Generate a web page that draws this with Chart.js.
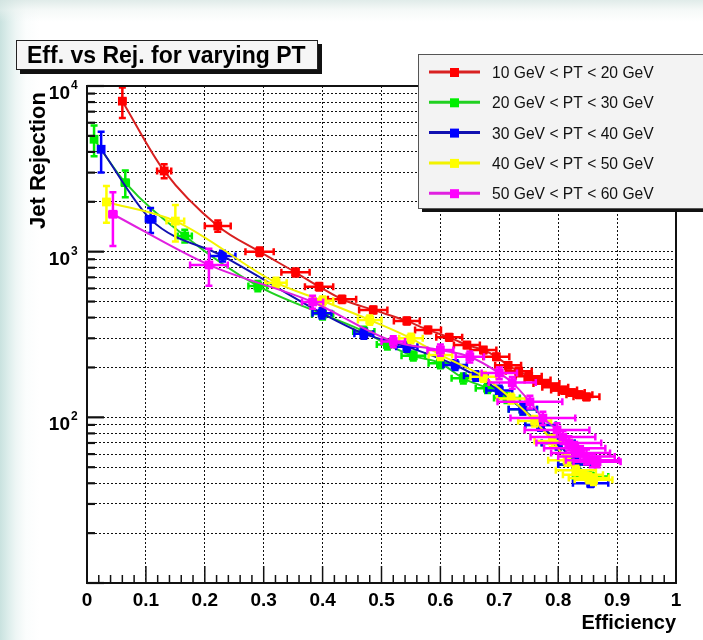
<!DOCTYPE html>
<html>
<head>
<meta charset="utf-8">
<script src="https://cdn.jsdelivr.net/npm/chart.js@4"></script>
<style>
  html, body { margin: 0; padding: 0; }
  body {
    width: 703px; height: 640px; overflow: hidden;
    background:
      linear-gradient(180deg, rgba(214,229,226,0.75) 0px, rgba(236,243,241,0.5) 10px, rgba(255,255,255,0) 22px),
      linear-gradient(90deg, #c9e2df 0px, #dcedeb 8px, #eef6f5 16px, #fbfdfd 26px, #ffffff 40px);
  }
  canvas { display: block; }
</style>
</head>
<body>
<canvas id="rej" width="703" height="640"></canvas>
<script>
// Jet rejection vs. tagging efficiency, one graph per PT bin

const ptBins = [
  '10 GeV < PT < 20 GeV',
  '20 GeV < PT < 30 GeV',
  '30 GeV < PT < 40 GeV',
  '40 GeV < PT < 50 GeV',
  '50 GeV < PT < 60 GeV'
];

// 10-20 GeV
const eff10 = [0.060, 0.131, 0.222, 0.293, 0.354, 0.394, 0.433, 0.486, 0.543, 0.579, 0.615, 0.645,
               0.673, 0.695, 0.715, 0.733, 0.750, 0.765, 0.780, 0.795, 0.810, 0.823, 0.836, 0.848];
const rej10 = [8100, 3070, 1430, 1000, 750, 615, 516, 445, 382, 337, 304, 273,
               255, 232, 206, 190, 177, 168, 160, 152, 146, 141, 137, 133];
const effErr10 = [0.005, 0.012, 0.022, 0.024, 0.024, 0.024, 0.024, 0.024, 0.022, 0.022, 0.022, 0.022,
                  0.022, 0.022, 0.022, 0.022, 0.022, 0.022, 0.022, 0.022, 0.022, 0.022, 0.022, 0.022];
const rejErr10 = [1700, 300, 110, 60, 42, 32, 26, 22, 18, 15, 14, 12,
                  11, 10, 9, 9, 8, 8, 7, 7, 7, 6, 6, 6];

// 20-30 GeV
const eff20 = [0.012, 0.065, 0.166, 0.290, 0.400, 0.470, 0.510, 0.554, 0.600, 0.639, 0.680, 0.713,
               0.740, 0.770, 0.800, 0.830, 0.855];
const rej20 = [4770, 2610, 1244, 621, 420, 330, 275, 235, 212, 172, 150, 131,
               112, 90, 70, 52, 44];
const effErr20 = [0.004, 0.006, 0.012, 0.016, 0.018, 0.018, 0.018, 0.020, 0.020, 0.020, 0.020, 0.022,
                  0.024, 0.026, 0.028, 0.030, 0.030];
const rejErr20 = [1000, 480, 110, 45, 30, 22, 18, 15, 14, 12, 10, 9,
                  8, 7, 6, 5, 4];

// 30-40 GeV
const eff30 = [0.024, 0.108, 0.230, 0.399, 0.470, 0.543, 0.625, 0.660, 0.700, 0.740, 0.770, 0.800,
               0.830, 0.855];
const rej30 = [4150, 1567, 942, 425, 320, 267, 207, 178, 145, 112, 90, 70,
               52, 40];
const effErr30 = [0.004, 0.008, 0.022, 0.016, 0.016, 0.018, 0.020, 0.020, 0.022, 0.024, 0.026, 0.028,
                  0.030, 0.030];
const rejErr30 = [1150, 270, 70, 30, 22, 18, 14, 12, 10, 8, 7, 6,
                  5, 2];

// 40-50 GeV
const eff40 = [0.033, 0.150, 0.321, 0.400, 0.480, 0.550, 0.600, 0.673, 0.720, 0.760, 0.790, 0.815,
               0.830, 0.842, 0.852, 0.860];
const rej40 = [1995, 1530, 650, 505, 387, 300, 238, 176, 130, 95, 72, 55,
               48, 45, 43, 42];
const effErr40 = [0.005, 0.015, 0.018, 0.018, 0.020, 0.020, 0.020, 0.022, 0.024, 0.028, 0.030, 0.032,
                  0.034, 0.034, 0.034, 0.032];
const rejErr40 = [500, 380, 45, 32, 25, 20, 16, 12, 9, 7, 6, 4,
                  3, 3, 3, 3];

// 50-60 GeV
const eff50 = [0.044, 0.207, 0.383, 0.520, 0.600, 0.650, 0.700, 0.722, 0.752, 0.774, 0.798, 0.808,
               0.818, 0.828, 0.838, 0.848, 0.858, 0.866];
const rej50 = [1682, 832, 497, 287, 255, 232, 185, 162, 124, 99, 84, 76,
               70, 65, 61, 58, 55, 54];
const effErr50 = [0.006, 0.032, 0.018, 0.020, 0.022, 0.024, 0.030, 0.040, 0.055, 0.055, 0.055, 0.055,
                  0.055, 0.052, 0.050, 0.048, 0.045, 0.040];
const rejErr50 = [600, 210, 45, 22, 20, 18, 15, 13, 11, 9, 8, 7,
                  7, 6, 6, 6, 5, 4];

// axis ticks
const xTickValues = [0, 0.1, 0.2, 0.3, 0.4, 0.5, 0.6, 0.7, 0.8, 0.9, 1];
const xTickLabels = ['0', '0.1', '0.2', '0.3', '0.4', '0.5', '0.6', '0.7', '0.8', '0.9', '1'];
const yDecades = [10, 100, 1000, 10000];
const yLabelValues = [100, 1000, 10000];
const yLabelExps = ['2', '3', '4'];

const markerColors = ['#ff0000', '#00ee00', '#0000ff', '#ffff00', '#ff00ff'];
const lineColors = ['#d82020', '#20d020', '#1010b0', '#f2f200', '#e020e0'];

const FONT = "'Liberation Sans', Arial, Helvetica, sans-serif";

const series = [
  [eff10, rej10, effErr10, rejErr10],
  [eff20, rej20, effErr20, rejErr20],
  [eff30, rej30, effErr30, rejErr30],
  [eff40, rej40, effErr40, rejErr40],
  [eff50, rej50, effErr50, rejErr50]
];

const datasets = series.map(([ex, ry, dex, dry], i) => ({
  label: ptBins[i],
  data: ex.map((v, k) => ({ x: v, y: ry[k], ex: dex[k], ey: dry[k] })),
  showLine: true,
  cubicInterpolationMode: 'monotone',
  borderColor: lineColors[i],
  borderWidth: 2,
  pointStyle: 'rect',
  pointRadius: 6.2,
  pointBackgroundColor: markerColors[i],
  pointBorderColor: markerColors[i],
  pointBorderWidth: 0,
  order: series.length - i   // later bins drawn on top
}));

const txt = (ctx, s, x, y, font, align, sx = 1) => {
  ctx.save();
  ctx.font = font;
  ctx.textAlign = align;
  ctx.textBaseline = 'alphabetic';
  ctx.translate(x, y);
  ctx.scale(sx, 1);
  ctx.fillText(s, 0, 0);
  ctx.restore();
};

const line = (ctx, x0, y0, x1, y1) => {
  ctx.beginPath();
  ctx.moveTo(x0, y0);
  ctx.lineTo(x1, y1);
  ctx.stroke();
};

// error bars with small end caps, clipped to the frame
const errorBars = {
  id: 'errorBars',
  afterDatasetDraw(chart, args) {
    const ds = chart.data.datasets[args.index];
    const { ctx, chartArea: a, scales: { x, y } } = chart;
    const cap = 3.5;
    ctx.save();
    ctx.beginPath();
    ctx.rect(a.left, a.top, a.right - a.left, a.bottom - a.top);
    ctx.clip();
    ctx.strokeStyle = ds.pointBackgroundColor;
    ctx.lineWidth = 2.5;
    ds.data.forEach(p => {
      const px = x.getPixelForValue(p.x), py = y.getPixelForValue(p.y);
      const x0 = x.getPixelForValue(p.x - p.ex), x1 = x.getPixelForValue(p.x + p.ex);
      const y0 = y.getPixelForValue(p.y + p.ey), y1 = y.getPixelForValue(p.y - p.ey);
      ctx.beginPath();
      ctx.moveTo(x0, py); ctx.lineTo(x1, py);
      ctx.moveTo(px, y0); ctx.lineTo(px, y1);
      ctx.moveTo(x0, py - cap); ctx.lineTo(x0, py + cap);
      ctx.moveTo(x1, py - cap); ctx.lineTo(x1, py + cap);
      ctx.moveTo(px - cap, y0); ctx.lineTo(px + cap, y0);
      ctx.moveTo(px - cap, y1); ctx.lineTo(px + cap, y1);
      ctx.stroke();
    });
    ctx.restore();
  }
};

// frame, inner ticks, labels, title box and legend
const decorations = {
  id: 'decorations',
  afterDraw(chart) {
    const { ctx, chartArea: a, scales: { x, y } } = chart;
    ctx.save();

    // frame
    ctx.strokeStyle = '#111';
    ctx.lineWidth = 2;
    ctx.strokeRect(a.left, a.top, a.right - a.left, a.bottom - a.top);

    // x ticks: minor every 0.02, major every 0.1
    ctx.lineWidth = 1.5;
    for (let i = 0; i <= 50; i++) {
      const px = x.getPixelForValue(i / 50);
      line(ctx, px, a.bottom, px, a.bottom - (i % 5 === 0 ? 17 : 8));
    }
    // y ticks on the log grid
    ctx.lineWidth = 2.2;
    y.ticks.forEach(t => {
      const py = y.getPixelForValue(t.value);
      line(ctx, a.left, py, a.left + (yDecades.includes(t.value) ? 17 : 8), py);
    });

    ctx.fillStyle = '#000';
    xTickValues.forEach((v, i) => {
      txt(ctx, xTickLabels[i], x.getPixelForValue(v), 606, 'bold 19px ' + FONT, 'center');
    });
    yLabelValues.forEach((v, i) => {
      const py = y.getPixelForValue(v);
      txt(ctx, '10', a.left - 17, py + 13, 'bold 19px ' + FONT, 'right');
      txt(ctx, yLabelExps[i], a.left - 16, py + 3, 'bold 12px ' + FONT, 'left');
    });

    // axis titles
    txt(ctx, 'Efficiency', a.right, 629, 'bold 20px ' + FONT, 'right');
    ctx.save();
    ctx.translate(45, 92);
    ctx.rotate(-Math.PI / 2);
    txt(ctx, 'Jet Rejection', 0, 0, 'bold 22px ' + FONT, 'right');
    ctx.restore();

    // title box
    ctx.fillStyle = '#111';
    ctx.fillRect(20, 44, 302, 30);
    ctx.fillStyle = '#f6f6f6';
    ctx.fillRect(16, 40, 302, 30);
    ctx.strokeStyle = '#222';
    ctx.lineWidth = 1;
    ctx.strokeRect(16.5, 40.5, 301, 29);
    ctx.fillStyle = '#000';
    txt(ctx, 'Eff. vs Rej. for varying PT', 27, 63, 'bold 23px ' + FONT, 'left');

    // legend
    const lx = 418, ly = 54, lw = 300, lh = 154;
    ctx.fillStyle = '#111';
    ctx.fillRect(lx + 4, ly + 4, lw, lh);
    ctx.fillStyle = '#f3f3f3';
    ctx.fillRect(lx, ly, lw, lh);
    ctx.strokeStyle = '#555';
    ctx.strokeRect(lx + 0.5, ly + 0.5, lw, lh);
    chart.data.datasets.forEach((ds, i) => {
      const cy = ly + 18 + i * 30.3;
      ctx.strokeStyle = ds.borderColor;
      ctx.lineWidth = 3;
      line(ctx, 429, cy, 480, cy);
      ctx.fillStyle = ds.pointBackgroundColor;
      ctx.fillRect(450, cy - 4, 9, 9);
      ctx.fillStyle = '#111';
      txt(ctx, ds.label, 492, cy + 6, '17px ' + FONT, 'left', 0.92);
    });

    ctx.restore();
  }
};

new Chart(document.getElementById('rej'), {
  type: 'scatter',
  data: { datasets },
  options: {
    responsive: false,
    animation: false,
    devicePixelRatio: 1,
    layout: { padding: { left: 87, top: 86, right: 27, bottom: 57 } },
    plugins: { legend: { display: false }, tooltip: { enabled: false } },
    scales: {
      x: {
        type: 'linear',
        min: 0,
        max: 1,
        ticks: { display: false, stepSize: 0.1 },
        grid: { color: '#111', lineWidth: 1, drawTicks: false },
        border: { display: false, dash: [2, 2] },
        afterFit: s => { s.height = 0; }
      },
      y: {
        type: 'logarithmic',
        min: 10,
        max: 10000,
        ticks: { display: false },
        grid: { color: '#111', lineWidth: 1, drawTicks: false },
        border: { display: false, dash: [2, 2] },
        afterBuildTicks: s => {
          const ticks = [];
          for (let d = 0; d < yDecades.length - 1; d++) {
            for (let m = 1; m < 10; m++) ticks.push({ value: yDecades[d] * m });
          }
          ticks.push({ value: yDecades[yDecades.length - 1] });
          s.ticks = ticks;
        },
        afterFit: s => { s.width = 0; }
      }
    }
  },
  plugins: [errorBars, decorations]
});
</script>
</body>
</html>
